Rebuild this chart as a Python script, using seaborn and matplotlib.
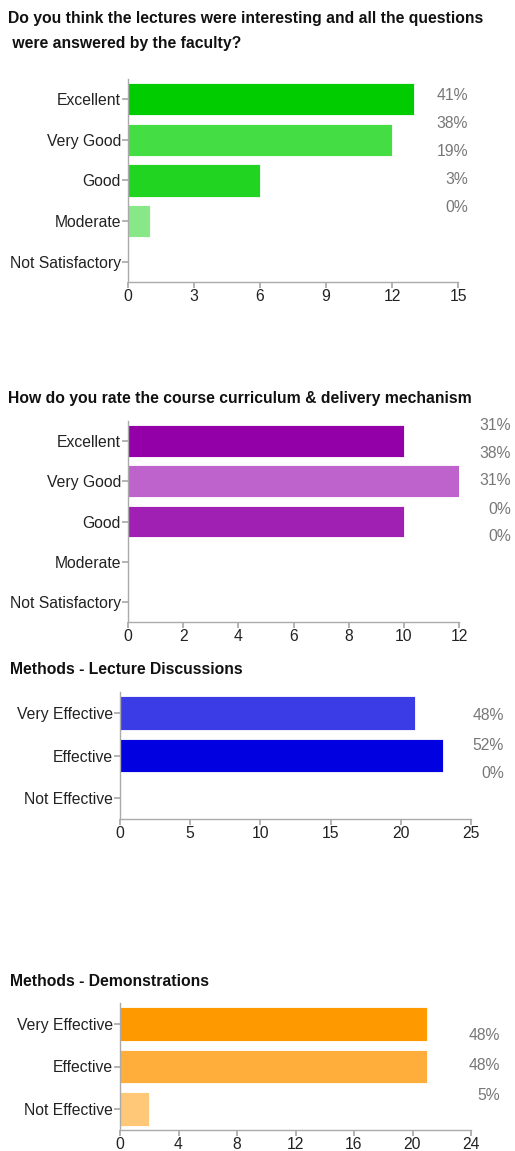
import matplotlib
matplotlib.use("Agg")
import matplotlib.pyplot as plt
import seaborn as sns
import pandas as pd

sns.set_theme(style="white")
plt.rcParams['font.family'] = ['Liberation Sans', 'DejaVu Sans']

W, H = 515, 1151

# chart 1
q1_title = "Do you think the lectures were interesting and all the questions\n were answered by the faculty?"
q1_cats = ['Excellent', 'Very Good', 'Good', 'Moderate', 'Not Satisfactory']
q1_vals = [13, 12, 6, 1, 0]
q1_pct = ['41%', '38%', '19%', '3%', '0%']
q1_colors = ['#00cc00', '#44dd44', '#22d422', '#88e888', '#cccccc']
q1_ticks = [0, 3, 6, 9, 12, 15]

# chart 2
q2_title = "How do you rate the course curriculum & delivery mechanism"
q2_cats = ['Excellent', 'Very Good', 'Good', 'Moderate', 'Not Satisfactory']
q2_vals = [10, 12, 10, 0, 0]
q2_pct = ['31%', '38%', '31%', '0%', '0%']
q2_colors = ['#9400a8', '#bf63cc', '#a020b4', '#cccccc', '#cccccc']
q2_ticks = [0, 2, 4, 6, 8, 10, 12]

# chart 3
q3_title = "Methods - Lecture Discussions"
q3_cats = ['Very Effective', 'Effective', 'Not Effective']
q3_vals = [21, 23, 0]
q3_pct = ['48%', '52%', '0%']
q3_colors = ['#3c3ce6', '#0000e0', '#cccccc']
q3_ticks = [0, 5, 10, 15, 20, 25]

# chart 4
q4_title = "Methods - Demonstrations"
q4_cats = ['Very Effective', 'Effective', 'Not Effective']
q4_vals = [21, 21, 2]
q4_pct = ['48%', '48%', '5%']
q4_colors = ['#ff9900', '#ffad3b', '#ffc878']
q4_ticks = [0, 4, 8, 12, 16, 20, 24]

FS = 11.3


def fx(x):
    return x / W


def fy(y):
    return 1 - y / H


def draw(fig, cats, vals, colors, ticks, box, title, title_xy, pct, pct_x, pct_y):
    left, top, right, bottom = box
    ax = fig.add_axes([fx(left), fy(bottom), fx(right - left), (bottom - top) / H])
    df = pd.DataFrame({'cat': cats, 'val': vals})
    sns.barplot(data=df, x='val', y='cat', hue='cat', palette=dict(zip(cats, colors)),
                order=cats, legend=False, width=0.79, saturation=1, ax=ax,
                edgecolor='white', linewidth=0.6)
    ax.set_xlim(ticks[0], ticks[-1])
    ax.set_ylim(len(cats) - 0.5, -0.5)
    ax.set_xticks(ticks)
    ax.set_xlabel('')
    ax.set_ylabel('')
    for s in ['top', 'right']:
        ax.spines[s].set_visible(False)
    for s in ['left', 'bottom']:
        ax.spines[s].set_color('#aaaaaa')
        ax.spines[s].set_linewidth(1)
    ax.tick_params(axis='y', length=4, color='#aaaaaa', labelsize=FS, labelcolor='#222222', pad=1, left=True)
    ax.tick_params(axis='x', length=4, color='#aaaaaa', labelsize=FS, labelcolor='#222222', pad=1, bottom=True)
    fig.text(fx(title_xy[0]), fy(title_xy[1]), title, fontsize=FS, fontweight='bold',
             color='#111111', ha='left', va='center', linespacing=1.8)
    for p, y in zip(pct, pct_y):
        fig.text(fx(pct_x), fy(y), p, fontsize=FS, color='#777777', ha='right', va='center')
    return ax


fig = plt.figure(figsize=(W / 100, H / 100), dpi=100)
fig.patch.set_facecolor('white')

draw(fig, q1_cats, q1_vals, q1_colors, q1_ticks, (128, 79, 458, 282), q1_title, (8, 31),
     q1_pct, 468, [95, 123, 151, 179, 207])
draw(fig, q2_cats, q2_vals, q2_colors, q2_ticks, (128, 421, 459, 622), q2_title, (8, 398),
     q2_pct, 511, [425, 453, 481, 509, 537])
draw(fig, q3_cats, q3_vals, q3_colors, q3_ticks, (120, 692, 471, 819), q3_title, (10, 670),
     q3_pct, 504, [716, 746, 774])
draw(fig, q4_cats, q4_vals, q4_colors, q4_ticks, (120, 1003, 471, 1130), q4_title, (10, 981),
     q4_pct, 500, [1035, 1065, 1095])

fig.savefig('out.png', dpi=100, facecolor='white')
